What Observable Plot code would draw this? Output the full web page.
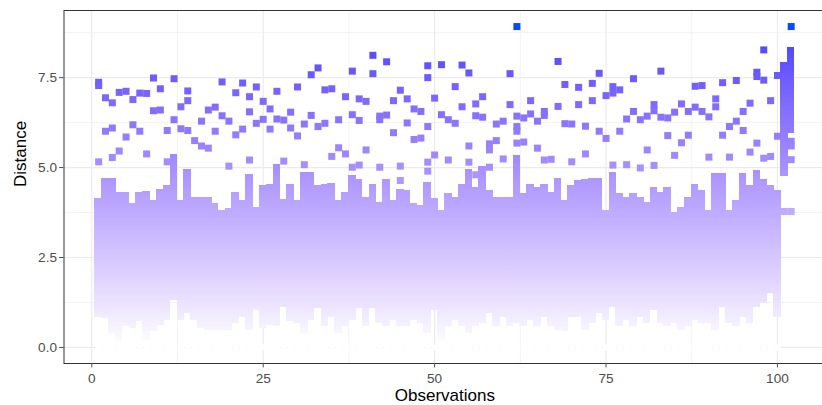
<!DOCTYPE html>
<html><head><meta charset="utf-8">
<script src="https://cdn.jsdelivr.net/npm/d3@7"></script>
<script src="https://cdn.jsdelivr.net/npm/@observablehq/plot@0.6"></script>
<style>
html,body{margin:0;padding:0;background:#fff;overflow:hidden;}
</style></head><body><div id="chart"></div>
<script>
// observation index (x) for every column
const observations = [1,2,3,4,5,6,7,8,9,10,11,12,13,14,15,16,17,18,19,20,
 21,22,23,24,25,26,27,28,29,30,31,32,33,34,35,36,37,38,39,40,
 41,42,43,44,45,46,47,48,49,50,51,52,53,54,55,56,57,58,59,60,
 61,62,63,64,65,66,67,68,69,70,71,72,73,74,75,76,77,78,79,80,
 81,82,83,84,85,86,87,88,89,90,91,92,93,94,95,96,97,98,99,100,101,102];

// lowest and highest distance of each column's dense stack of points
const bandLow = [0.94,0.90,0.48,0.25,0.67,0.62,0.81,0.30,0.53,0.71,
 0.85,1.41,0.85,1.04,0.85,0.62,0.57,0.57,0.57,0.57,
 0.76,0.94,0.57,1.13,0.62,0.71,0.67,1.22,0.81,0.76,
 0.48,0.85,1.18,0.67,0.94,0.48,0.67,0.85,1.18,0.67,
 1.18,0.76,0.67,0.85,0.67,0.67,0.85,0.76,0.48,1.13,
 0.30,0.67,0.85,0.67,0.48,0.67,0.76,1.04,0.67,0.94,
 0.67,0.76,0.67,0.85,0.67,0.94,0.67,0.57,0.53,0.94,
 0.94,0.57,0.76,1.04,0.85,1.22,0.67,0.85,0.67,0.94,
 0.76,1.13,0.76,0.67,0.76,0.57,0.67,0.85,0.76,0.76,
 0.57,1.22,0.76,0.67,0.94,0.76,1.22,1.31,1.59,0.94,
 4.86,6.06];
const bandHigh = [4.05,4.60,4.60,4.20,4.21,3.89,4.21,4.24,3.98,4.28,
 4.41,5.26,3.98,4.86,4.07,4.07,4.07,3.91,3.72,3.75,
 4.21,3.98,4.72,3.80,4.40,4.44,4.98,4.00,4.44,3.98,
 4.75,4.77,4.40,4.44,4.47,3.98,4.21,4.68,4.56,4.07,
 4.44,3.93,4.58,3.98,4.30,4.26,3.89,3.84,4.49,4.03,
 3.70,4.17,4.07,4.44,4.86,4.35,4.93,4.26,4.07,4.07,
 4.07,5.23,4.17,4.44,4.35,4.44,4.21,4.61,3.98,4.40,
 4.54,4.56,4.61,4.61,3.70,4.77,4.17,4.07,4.19,4.07,
 3.93,4.35,4.21,4.35,3.66,3.80,4.07,4.44,4.26,3.70,
 4.74,4.74,3.70,3.98,4.74,4.40,4.81,4.58,4.40,4.26,
 7.81,8.25];

// isolated points above each column's stack (one list per observation)
const upperPoints = [
 [7.37,7.28,5.16],[6.94,6.01],[6.80,6.10,5.28],[7.09,5.46],[7.12,5.85],
 [6.89,6.19],[7.07,6.01],[7.06,5.38],[7.49,6.58],[7.19,6.60],
 [6.03,5.16],[7.47,6.33],[6.69,6.08],[7.13,6.86,6.03],[5.75],
 [6.29,5.60],[6.60,5.54],[6.68,6.01],[7.38,6.44],[6.29,5.04],
 [7.08,5.91],[7.35,6.07],[6.97,6.55,5.21],[7.24,6.23],[6.84,6.34],
 [6.63,6.07],[7.12,6.35],[6.32,5.18],[6.54,6.10],[7.24,5.88],
 [6.21,5.08],[7.58,6.45],[7.77,6.14],[7.16,6.23],[7.19,5.31],
 [6.33,5.55],[6.97,5.38],[7.68,6.47,5.01],[6.91,6.31,5.07],[6.84,5.49],
 [8.12,7.61],[6.43,6.33,5.01],[7.94,6.46],[6.86,5.97],[7.15,5.04,4.64],
 [6.91,6.24],[6.63,5.78],[6.56,5.82],[7.83,7.50,6.14,5.15,4.90],[6.93,5.35],
 [7.86,6.47],[6.33,5.21],[7.25,6.23],[7.85,6.69],[7.63,5.60,5.15],
 [6.77,6.44,4.80],[6.97,6.40],[5.66,5.49,5.01],[6.21,5.75],[6.29,5.24],
 [7.61,6.75],[8.92,6.43,6.14,6.01,5.68],[6.38,5.71],[6.86,6.49],[6.29,5.54],
 [6.56,6.45,5.21],[5.23],[7.95,6.70],[7.31,6.22],[6.21,5.16],
 [7.23,6.75],[6.15,5.38],[7.34,6.86],[7.62,6.01],[7.00,5.81],
 [7.25,7.07,5.07],[7.16,6.01],[6.35,5.08],[7.47,6.56],[6.33,4.99],
 [6.43,5.49],[6.75,6.58,5.06],[7.68,6.40],[6.38,5.89],[6.54,5.34],
 [6.77,5.69],[6.56,5.90],[7.26,6.68],[7.28,6.56],[6.41,5.29],
 [6.91,6.69],[7.36,5.90],[6.14,5.29],[7.42,6.29],[6.56,6.03],
 [6.79,5.43],[7.65,7.53,5.68],[8.27,7.43,5.26],[6.86,5.31],[7.56,5.87],
 [3.78],[8.92,5.73,5.60,5.22,3.78]
];

// each of observations 1..100 at distance 0 from itself
const selfDistance = 0;
const lastRegularObs = 100;

const xTicks = [0, 25, 50, 75, 100];
const xMinor = [12.5, 37.5, 62.5, 87.5];
const yTicks = [0, 2.5, 5, 7.5];
const yMinor = [1.25, 3.75, 6.25, 8.75];
const maxDistance = 8.92;
const colorStops = [0, 8.5, maxDistance];
const colorRange = ["#ffffff", "#4c46ff", "#0a4aff"];

// tables for the marks
const band = observations.map((o, i) => ({obs: o, lo: bandLow[i], hi: bandHigh[i]}));
const upper = observations.flatMap((o, i) => upperPoints[i].map(d => ({obs: o, dist: d})));
const selfPts = observations.filter(o => o <= lastRegularObs).map(o => ({obs: o, dist: selfDistance}));

const halfW = 0.55;   // half a square (slightly widened so columns join), observation units
const halfH = 0.1;    // half a square, in distance units

const plot = Plot.plot({
  width: 822, height: 405,
  marginLeft: 63.5, marginRight: -3.3, marginTop: 10, marginBottom: 42,
  style: {fontFamily: "'Liberation Sans', Arial, sans-serif", background: "#ffffff", overflow: "hidden"},
  x: {domain: [-4.05, 107.05]},
  y: {domain: [-0.446, 9.366]},
  color: {type: "linear", domain: colorStops, range: colorRange, interpolate: "lab"},
  marks: [
    Plot.gridX(xMinor, {stroke: "#ebebeb", strokeOpacity: 1, strokeWidth: 0.6}),
    Plot.gridY(yMinor, {stroke: "#ebebeb", strokeOpacity: 1, strokeWidth: 0.6}),
    Plot.gridX(xTicks, {stroke: "#ebebeb", strokeOpacity: 1, strokeWidth: 1.2}),
    Plot.gridY(yTicks, {stroke: "#ebebeb", strokeOpacity: 1, strokeWidth: 1.2}),
    Plot.rect(band, {x1: d => d.obs - halfW, x2: d => d.obs + halfW,
                     y1: d => d.lo - halfH, y2: d => d.hi + halfH,
                     fill: "url(#distGrad)", shapeRendering: "crispEdges"}),
    Plot.dot(selfPts, {x: "obs", y: "dist", symbol: "square", r: 3.6, fill: "dist"}),
    Plot.dot(upper, {x: "obs", y: "dist", symbol: "square", r: 3.95, fill: "dist"}),
    Plot.frame({stroke: "#333333", strokeWidth: 1}),
    Plot.axisX(xTicks, {tickSize: 4.4, tickPadding: 5, fontSize: 13.6, color: "#4d4d4d", label: null}),
    Plot.axisY(yTicks, {tickSize: 4.4, tickPadding: 2.6, fontSize: 13.6, color: "#4d4d4d", label: null,
                        tickFormat: d3.format(".1f")}),
    Plot.text(["Observations"], {frameAnchor: "bottom", lineAnchor: "bottom", dy: 37.5,
                                 fontSize: 17, fill: "#000000"}),
    Plot.text(["Distance"], {frameAnchor: "left", rotate: -90, dx: -43.5,
                             fontSize: 17, fill: "#000000"})
  ]
});

// vertical gradient that follows the colour scale along the y scale
const yS = plot.scale("y"), cS = plot.scale("color");
const defs = d3.select(plot).insert("defs", ":first-child");
const grad = defs.append("linearGradient").attr("id", "distGrad")
  .attr("gradientUnits", "userSpaceOnUse")
  .attr("x1", 0).attr("x2", 0)
  .attr("y1", yS.apply(0)).attr("y2", yS.apply(maxDistance));
for (let k = 0; k <= 40; k++) {
  const t = k / 40;
  grad.append("stop").attr("offset", t).attr("stop-color", cS.apply(t * maxDistance));
}
document.getElementById("chart").appendChild(plot);
</script></body></html>
